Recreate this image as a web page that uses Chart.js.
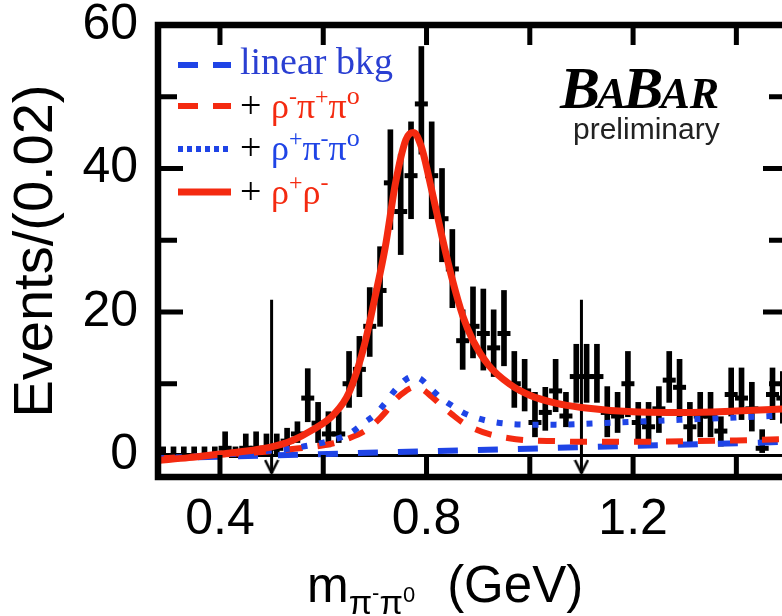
<!DOCTYPE html>
<html>
<head>
<meta charset="utf-8">
<script src="https://cdn.jsdelivr.net/npm/chart.js@4.4.0/dist/chart.umd.min.js"></script>
<style>
html, body { margin: 0; padding: 0; background: #fff; overflow: hidden; }
#wrap { width: 800px; height: 616px; }
</style>
</head>
<body>
<div id="wrap"><canvas id="chartArea" width="800" height="616"></canvas></div>
<script>
// m(pi- pi0) bin centres, 0.02 GeV bins
var massBins = [0.29, 0.31, 0.33, 0.35, 0.37, 0.39, 0.41, 0.43, 0.45, 0.47,
    0.49, 0.51, 0.53, 0.55, 0.57, 0.59, 0.61, 0.63, 0.65, 0.67,
    0.69, 0.71, 0.73, 0.75, 0.77, 0.79, 0.81, 0.83, 0.85, 0.87,
    0.89, 0.91, 0.93, 0.95, 0.97, 0.99, 1.01, 1.03, 1.05, 1.07,
    1.09, 1.11, 1.13, 1.15, 1.17, 1.19, 1.21, 1.23, 1.25, 1.27,
    1.29, 1.31, 1.33, 1.35, 1.37, 1.39, 1.41, 1.43, 1.45, 1.47, 1.49];
var events = [0, 0, 0, 0, 0, 0, 1, 0, 1, 1,
    1, 1, 2, 3, 8, 4.5, 3, 3, 10, 12,
    18, 23, 38, 34, 39, 49, 39, 33, 26, 16,
    18, 17, 15, 17, 10, 9, 4.6, 6, 9, 5.5,
    11, 11, 11, 6, 5.5, 10, 4.6, 4, 6.5, 10.5,
    9.5, 4, 5.5, 5.5, 3.4, 8.5, 8, 6.5, 1, 8.5, 8];
var errDown = [0, 0, 0, 0, 0, 0, 0.8, 0, 0.8, 0.8,
    0.8, 0.8, 1.3, 1.2, 3.3, 2.7, 1.8, 1.2, 3.3, 3.8,
    4.2, 5.0, 6.5, 6.0, 6.0, 7.0, 6.0, 6.0, 5.4, 4.0,
    4.4, 5.1, 4.0, 4.5, 3.3, 2.8, 2.0, 2.5, 2.9, 1.5,
    3.6, 3.6, 3.6, 3.4, 2.3, 4.6, 2.8, 2.2, 3.3, 3.1,
    4.1, 2.2, 2.9, 2.9, 2.1, 3.0, 3.0, 3.1, 0.6, 3.5, 3.5];
var errUp = [1.2, 1.2, 1.2, 1.2, 1.2, 1.2, 2.3, 1.2, 2.0, 2.3,
    2.0, 2.0, 1.8, 1.7, 4.1, 2.9, 3.1, 3.1, 4.5, 4.6,
    5.4, 6.1, 7.4, 8.0, 7.5, 8.0, 7.5, 7.0, 5.5, 4.3,
    5.5, 6.2, 5.3, 6.0, 4.5, 4.4, 4.2, 3.5, 4.4, 3.3,
    4.5, 4.5, 4.5, 3.6, 3.3, 4.5, 2.8, 3.4, 3.1, 4.0,
    3.9, 3.4, 3.3, 3.3, 2.0, 3.7, 4.2, 3.7, 2.6, 3.7, 3.7];

// fit projections
var curveMass = [0.28, 0.34, 0.40, 0.46, 0.50, 0.54, 0.58, 0.62, 0.65, 0.68,
    0.70, 0.72, 0.74, 0.76, 0.775, 0.79, 0.81, 0.83, 0.85, 0.87,
    0.89, 0.92, 0.96, 1.00, 1.05, 1.10, 1.20, 1.30, 1.40, 1.50];
var fitRhoRho = [-0.7, -0.3, 0.2, 0.7, 1.2, 2.1, 3.6, 5.7, 8.8, 15.5,
    22, 29, 38, 44, 45, 43, 37, 30.5, 24.5, 19.5,
    16, 12.6, 10, 8.4, 7.3, 6.7, 6.1, 6.0, 6.2, 6.5];
var fitRhoPlusPiPi = [-0.4, -0.2, 0.1, 0.4, 0.7, 1.0, 1.5, 2.2, 3.0, 4.6,
    5.7, 7.3, 9.2, 10.6, 11.0, 10.6, 9.2, 7.9, 6.9, 6.0,
    5.4, 4.8, 4.4, 4.3, 4.3, 4.4, 4.7, 5.0, 5.3, 5.6];
var fitRhoMinusPiPi = [-0.4, -0.2, 0.1, 0.4, 0.6, 0.9, 1.2, 1.7, 2.4, 3.4,
    4.5, 6.0, 7.8, 9.0, 9.5, 9.3, 8.2, 6.9, 5.7, 4.6,
    3.8, 3.0, 2.4, 2.1, 2.0, 1.9, 1.9, 2.0, 2.1, 2.3];
var bkgMass = [0.28, 1.50];
var bkgLinear = [-0.4, 1.9];

// mass window cut arrows
var cutValues = [0.5, 1.1];
var cutTop = 21.7;
var cutTip = -2.45;

var xTicks = [0.4, 0.6, 0.8, 1.0, 1.2, 1.4];
var xTickLabels = ['0.4', '0.8', '1.2'];
var yTicks = [0, 10, 20, 30, 40, 50, 60];
var yTickLabels = ['0', '20', '40', '60'];

var RED = '#f42a10';
var BLUE = '#1f44e6';
var SANS = "'Liberation Sans', Arial, sans-serif";
var SERIF = "'Liberation Serif', 'Times New Roman', serif";

function pts(xs, ys) {
    return xs.map(function(x, i) { return {x: x, y: ys[i]}; });
}

// open "V" arrow head
var arrowHead = document.createElement('canvas');
arrowHead.width = 16; arrowHead.height = 30;
(function() {
    var c = arrowHead.getContext('2d');
    c.strokeStyle = '#000'; c.lineWidth = 2.5;
    c.beginPath(); c.moveTo(1.5, 2); c.lineTo(8, 15); c.lineTo(14.5, 2); c.stroke();
})();

function drawRich(ctx, x, y, parts) {
    parts.forEach(function(p) {
        ctx.font = p.font;
        ctx.fillStyle = p.color;
        ctx.fillText(p.t, x, y + (p.dy || 0));
        x += ctx.measureText(p.t).width + (p.gap || 0);
    });
}

// scales must not reserve room for their own labels
function noPadding(s) {
    s.paddingTop = 0; s.paddingBottom = 0;
    s.paddingLeft = 0; s.paddingRight = 0;
}

var legendRows = [
    {ds: 3, y: 65, base: 74, dash: [20, 15], parts: [{t: 'linear bkg', font: '38px ' + SERIF, color: '#2a3fd2'}]},
    {ds: 2, y: 106, base: 118, dash: [20, 15], parts: [
        {t: '+ ', font: '38px ' + SERIF, color: '#000'},
        {t: 'ρ', font: '36px ' + SERIF, color: RED},
        {t: '-', font: '24px ' + SERIF, color: RED, dy: -14},
        {t: 'π', font: '36px ' + SERIF, color: RED},
        {t: '+', font: '24px ' + SERIF, color: RED, dy: -14},
        {t: 'π', font: '36px ' + SERIF, color: RED},
        {t: 'o', font: '26px ' + SERIF, color: RED, dy: -14}]},
    {ds: 1, y: 149, base: 160, dash: [5, 4], parts: [
        {t: '+ ', font: '38px ' + SERIF, color: '#000'},
        {t: 'ρ', font: '36px ' + SERIF, color: BLUE},
        {t: '+', font: '24px ' + SERIF, color: BLUE, dy: -14},
        {t: 'π', font: '36px ' + SERIF, color: BLUE},
        {t: '-', font: '24px ' + SERIF, color: BLUE, dy: -14},
        {t: 'π', font: '36px ' + SERIF, color: BLUE},
        {t: 'o', font: '26px ' + SERIF, color: BLUE, dy: -14}]},
    {ds: 0, y: 192, base: 204, dash: [], parts: [
        {t: '+ ', font: '38px ' + SERIF, color: '#000'},
        {t: 'ρ', font: '36px ' + SERIF, color: RED},
        {t: '+', font: '24px ' + SERIF, color: RED, dy: -14},
        {t: 'ρ', font: '36px ' + SERIF, color: RED},
        {t: '-', font: '24px ' + SERIF, color: RED, dy: -14}]}
];

var decorations = {
    id: 'decorations',
    afterDraw: function(chart) {
        var ctx = chart.ctx, a = chart.chartArea;
        var xs = chart.scales.x, ys = chart.scales.y;
        ctx.save();

        // inward tick marks and frame
        ctx.strokeStyle = '#000';
        ctx.lineWidth = 5;
        ctx.beginPath();
        xs.ticks.forEach(function(t) {
            var px = xs.getPixelForValue(t.value);
            ctx.moveTo(px, a.bottom); ctx.lineTo(px, a.bottom - 22);
            ctx.moveTo(px, a.top); ctx.lineTo(px, a.top + 20);
        });
        ys.ticks.forEach(function(t) {
            if (t.value <= 0 || t.value >= 60) return;
            var py = ys.getPixelForValue(t.value);
            var len = t.value % 20 === 0 ? 25 : 19;
            ctx.moveTo(a.left, py); ctx.lineTo(a.left + len, py);
            ctx.moveTo(a.right, py); ctx.lineTo(a.right - len, py);
        });
        ctx.stroke();
        ctx.lineWidth = 6.5;
        ctx.strokeRect(a.left, a.top, a.right - a.left, a.bottom - a.top);

        // legend
        legendRows.forEach(function(row) {
            var ds = chart.data.datasets[row.ds];
            ctx.save();
            ctx.strokeStyle = ds.borderColor;
            ctx.lineWidth = ds.borderWidth;
            ctx.setLineDash(row.dash);
            ctx.beginPath();
            ctx.moveTo(178, row.y); ctx.lineTo(231, row.y);
            ctx.stroke();
            ctx.restore();
            ctx.textBaseline = 'alphabetic';
            ctx.textAlign = 'left';
            drawRich(ctx, 240, row.base, row.parts);
        });

        // BaBar label
        ctx.textBaseline = 'alphabetic';
        ctx.textAlign = 'left';
        drawRich(ctx, 560, 108, [
            {t: 'B', font: 'italic bold 60px ' + SERIF, color: '#000', gap: -3},
            {t: 'A', font: 'italic bold 44px ' + SERIF, color: '#000', gap: -3},
            {t: 'B', font: 'italic bold 60px ' + SERIF, color: '#000', gap: -3},
            {t: 'AR', font: 'italic bold 44px ' + SERIF, color: '#000'}]);
        ctx.font = '30px ' + SANS;
        ctx.fillStyle = '#222';
        ctx.fillText('preliminary', 573, 139);

        // x axis title
        drawRich(ctx, 307, 602, [
            {t: 'm', font: '50px ' + SANS, color: '#000'},
            {t: 'π', font: '34px ' + SANS, color: '#000', dy: 12},
            {t: '-', font: '22px ' + SANS, color: '#000', dy: -2},
            {t: 'π', font: '34px ' + SANS, color: '#000', dy: 12},
            {t: '0', font: '22px ' + SANS, color: '#000', dy: 0, gap: 32},
            {t: '(GeV)', font: '51px ' + SANS, color: '#000'}]);
        ctx.restore();
    }
};

var ctx = document.getElementById('chartArea').getContext('2d');
var config = {
    type: 'scatter',
    data: {
        datasets: [{
            type: 'line',
            label: '+ ρ⁺ρ⁻',
            data: pts(curveMass, fitRhoRho),
            borderColor: RED,
            borderWidth: 7,
            pointRadius: 0,
            cubicInterpolationMode: 'monotone',
            order: 0
        }, {
            type: 'line',
            label: '+ ρ⁺π⁻π⁰',
            data: pts(curveMass, fitRhoPlusPiPi),
            borderColor: BLUE,
            borderWidth: 6,
            borderDash: [6, 12],
            pointRadius: 0,
            cubicInterpolationMode: 'monotone',
            order: 1
        }, {
            type: 'line',
            label: '+ ρ⁻π⁺π⁰',
            data: pts(curveMass, fitRhoMinusPiPi),
            borderColor: RED,
            borderWidth: 6,
            borderDash: [17, 15],
            pointRadius: 0,
            cubicInterpolationMode: 'monotone',
            order: 2
        }, {
            type: 'line',
            label: 'linear bkg',
            data: pts(bkgMass, bkgLinear),
            borderColor: BLUE,
            borderWidth: 6,
            borderDash: [20, 20],
            pointRadius: 0,
            order: 3
        }, {
            type: 'line',
            label: 'cut',
            data: [{x: cutValues[0], y: cutTop}, {x: cutValues[0], y: cutTip}],
            borderColor: '#000',
            borderWidth: 3,
            pointStyle: arrowHead,
            pointRadius: [0, 8],
            order: 4
        }, {
            type: 'line',
            label: 'cut',
            data: [{x: cutValues[1], y: cutTop}, {x: cutValues[1], y: cutTip}],
            borderColor: '#000',
            borderWidth: 3,
            pointStyle: arrowHead,
            pointRadius: [0, 8],
            order: 4
        }, {
            label: 'data',
            data: pts(massBins, events),
            pointStyle: 'line',
            pointRadius: 6.5,
            borderColor: '#000',
            borderWidth: 5,
            order: 5
        }, {
            type: 'bar',
            label: 'error',
            data: massBins.map(function(m, i) {
                return {x: m, y: [events[i] - errDown[i], events[i] + errUp[i]]};
            }),
            backgroundColor: '#000',
            borderWidth: 0,
            barThickness: 5,
            grouped: false,
            order: 6
        }]
    },
    options: {
        responsive: false,
        devicePixelRatio: 1,
        animation: false,
        events: [],
        layout: {autoPadding: false, padding: {left: 0, top: 25, right: 12, bottom: 0}},
        plugins: {
            legend: {display: false},
            tooltip: {enabled: false}
        },
        scales: {
            x: {
                type: 'linear',
                position: 'bottom',
                min: 0.28,
                max: 1.5,
                offset: false,
                afterBuildTicks: function(s) {
                    s.ticks = xTicks.map(function(v) { return {value: v}; });
                },
                afterFit: function(s) { s.height = 139; noPadding(s); },
                grid: {display: false, drawTicks: false, offset: false},
                border: {display: false},
                ticks: {
                    autoSkip: false,
                    maxRotation: 0,
                    padding: 18,
                    color: '#000',
                    font: {family: SANS, size: 50, lineHeight: 1},
                    callback: function(v) {
                        var s = v.toFixed(1);
                        return xTickLabels.indexOf(s) >= 0 ? s : '';
                    }
                }
            },
            y: {
                type: 'linear',
                min: -3,
                max: 60,
                afterBuildTicks: function(s) {
                    s.ticks = yTicks.map(function(v) { return {value: v}; });
                },
                afterFit: function(s) { s.width = 158; noPadding(s); },
                grid: {
                    drawTicks: false,
                    lineWidth: 3,
                    color: function(c) {
                        return c.tick && c.tick.value === 0 ? '#000' : 'rgba(0,0,0,0)';
                    }
                },
                border: {display: false},
                ticks: {
                    padding: 20,
                    color: '#000',
                    font: {family: SANS, size: 50, lineHeight: 1},
                    callback: function(v) {
                        var s = String(v);
                        return yTickLabels.indexOf(s) >= 0 ? s : '';
                    }
                },
                title: {
                    display: true,
                    text: 'Events/(0.02)',
                    color: '#000',
                    font: {family: SANS, size: 56, lineHeight: 1.2},
                    padding: {top: 3, bottom: 0}
                }
            }
        }
    },
    plugins: [decorations]
};
window.myChart = new Chart(ctx, config);
</script>
</body>
</html>
